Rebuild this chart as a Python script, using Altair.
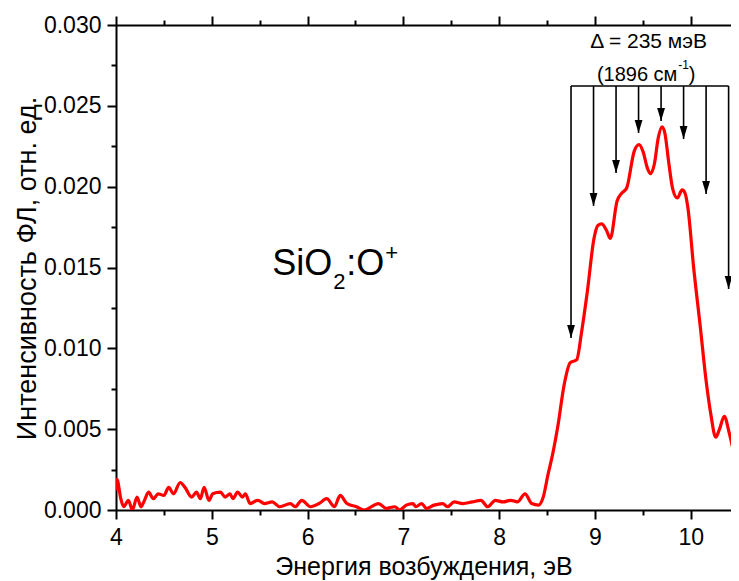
import altair as alt
import pandas as pd

FONT = "Liberation Sans"

# ---- spectrum ----
energy = [
    4.00, 4.01, 4.05, 4.08, 4.13, 4.17, 4.22, 4.26, 4.29, 4.34,
    4.39, 4.44, 4.50, 4.55, 4.60, 4.67, 4.72, 4.79, 4.84, 4.88,
    4.92, 4.97, 5.01, 5.09, 5.14, 5.19, 5.22, 5.27, 5.32, 5.35,
    5.40, 5.48, 5.55, 5.63, 5.71, 5.82, 5.87, 5.94, 6.03, 6.12,
    6.20, 6.28, 6.34, 6.41, 6.51, 6.59, 6.74, 6.82, 6.91, 6.96,
    7.03, 7.10, 7.13, 7.19, 7.24, 7.32, 7.41, 7.46, 7.53, 7.62,
    7.72, 7.81, 7.88, 7.96, 8.04, 8.12, 8.19, 8.27, 8.34, 8.41,
    8.46, 8.51, 8.56, 8.61, 8.68, 8.74, 8.81, 8.86, 8.92, 8.99,
    9.03, 9.07, 9.12, 9.16, 9.23, 9.28, 9.33, 9.41, 9.46, 9.50,
    9.55, 9.58, 9.62, 9.66, 9.70, 9.73, 9.77, 9.81, 9.86, 9.91,
    9.94, 9.97, 10.03, 10.10, 10.16, 10.21, 10.26, 10.30, 10.35, 10.40,
    10.45,
]
intensity = [
    0.0012, 0.0019, 0.0007, 0.0002, 0.0006, 0.0000, 0.0008, 0.0002, 0.0005, 0.0011,
    0.0007, 0.0010, 0.0009, 0.0014, 0.0010, 0.0017, 0.0014, 0.0008, 0.0011, 0.0007,
    0.0014, 0.0006, 0.0010, 0.0011, 0.0008, 0.0010, 0.0007, 0.0011, 0.0008, 0.0010,
    0.0004, 0.0006, 0.0004, 0.0005, 0.0002, 0.0004, 0.0002, 0.0006, 0.0002, 0.0004,
    0.0007, 0.0002, 0.0009, 0.0004, 0.0002, 0.0000, 0.0004, 0.0001, 0.0002, 0.0000,
    0.0003, 0.0004, 0.0002, 0.0004, 0.0001, 0.0003, 0.0004, 0.0002, 0.0005, 0.0004,
    0.0005, 0.0006, 0.0002, 0.0006, 0.0005, 0.0006, 0.0005, 0.0010, 0.0004, 0.0003,
    0.0008, 0.0022, 0.0035, 0.0051, 0.0078, 0.0091, 0.0093, 0.0110, 0.0135, 0.0168,
    0.0176, 0.0177, 0.0173, 0.0168, 0.0191, 0.0196, 0.0199, 0.0222, 0.0226, 0.0222,
    0.0211, 0.0208, 0.0214, 0.0230, 0.0237, 0.0233, 0.0215, 0.0199, 0.0193, 0.0198,
    0.0196, 0.0187, 0.0150, 0.0113, 0.0080, 0.0059, 0.0045, 0.0050, 0.0058, 0.0048,
    0.0035,
]

# ---- vibronic progression arrows (Δ = 235 meV) ----
arrow_energy = [8.75, 8.985, 9.22, 9.455, 9.69, 9.925, 10.16, 10.395]
arrow_tip = [0.01064, 0.01881, 0.02085, 0.02332, 0.02406, 0.02295, 0.01955, 0.01367]
arrow_top = 0.02623

# ---- axis ticks ----
x_ticks = [4.0, 4.5, 5.0, 5.5, 6.0, 6.5, 7.0, 7.5, 8.0, 8.5, 9.0, 9.5, 10.0]
y_ticks = [0.0, 0.0025, 0.005, 0.0075, 0.01, 0.0125, 0.015, 0.0175,
           0.02, 0.0225, 0.025, 0.0275, 0.03]

# ---- annotations ----
delta_text = ["Δ = 235 мэВ"]
delta_pos = [9.56, 0.02858]
wn_text = ["(1896 см", "-1", ")"]
wn_pos = [[9.86, 0.02654], [9.86, 0.02728], [9.98, 0.02654]]
sample_text = ["SiO", "2", ":O", "+"]
sample_pos = [5.63, 0.01454]

spec = pd.DataFrame({"E": energy, "I": intensity})
arr = pd.DataFrame({"E": arrow_energy, "tip": arrow_tip, "top": [arrow_top] * len(arrow_energy)})
bar = pd.DataFrame({"E": [arrow_energy[0]], "E2": [arrow_energy[-1]], "top": [arrow_top]})

xscale = alt.Scale(domain=[4.0, 10.42], nice=False, zero=False)
yscale = alt.Scale(domain=[0.0, 0.030], nice=False, zero=False)

x_tick_size = {"condition": {"test": "datum.value % 1 !== 0", "value": 5}, "value": 9}
y_tick_size = {"condition": {"test": "round(datum.value * 10000) % 50 !== 0", "value": 5}, "value": 9}

common_axis = dict(
    grid=False, domainColor="black", tickColor="black", domainWidth=2, tickWidth=2,
    labelFont=FONT, titleFont=FONT, labelColor="black", titleColor="black",
    labelFontSize=23, titleFontWeight="normal",
    labelOverlap=False, labelFlush=False, labelBound=False,
)

x_bottom = alt.Axis(
    values=x_ticks, title="Энергия возбуждения, эВ",
    labelExpr="datum.value % 1 === 0 ? format(datum.value, 'd') : ''",
    tickSize=x_tick_size, labelPadding=7, titleFontSize=25,
    titleBaseline="alphabetic", titleY=64, **common_axis,
)
x_top = alt.Axis(
    orient="top", values=x_ticks, labels=False, title=None,
    tickSize=x_tick_size, **{k: v for k, v in common_axis.items() if not k.startswith("title")},
)
y_left = alt.Axis(
    values=y_ticks, title="Интенсивность ФЛ, отн. ед.",
    labelExpr="round(datum.value * 10000) % 50 === 0 ? format(datum.value, '.3f') : ''",
    tickSize=y_tick_size, labelPadding=6, titleFontSize=27,
    titleBaseline="alphabetic", titleX=-81, titleY=243, **common_axis,
)

line = alt.Chart(spec).mark_line(color="#ff0000", strokeWidth=3.2, interpolate="monotone", clip=True).encode(
    x=alt.X("E:Q", scale=xscale, axis=x_bottom),
    y=alt.Y("I:Q", scale=yscale, axis=y_left),
)

top_axis = alt.Chart(spec).mark_line(opacity=0).encode(
    x=alt.X("E:Q", scale=xscale, axis=x_top),
    y=alt.Y("I:Q", scale=yscale, axis=None),
)

hbar = alt.Chart(bar).mark_rule(color="black", strokeWidth=1.6).encode(
    x=alt.X("E:Q", scale=xscale, axis=None), x2="E2:Q",
    y=alt.Y("top:Q", scale=yscale, axis=None),
)

vlines = alt.Chart(arr).mark_rule(color="black", strokeWidth=1.6).encode(
    x=alt.X("E:Q", scale=xscale, axis=None),
    y=alt.Y("top:Q", scale=yscale, axis=None), y2="tip:Q",
)

heads = alt.Chart(arr).mark_point(
    shape="M-0.3,-1L0.3,-1L0,0Z", size=676, filled=True, color="black", opacity=1, strokeWidth=0
).encode(
    x=alt.X("E:Q", scale=xscale, axis=None),
    y=alt.Y("tip:Q", scale=yscale, axis=None),
)

def text_layer(txt, pos, size, align="left", dx=0, dy=0):
    d = pd.DataFrame({"E": [pos[0]], "I": [pos[1]], "t": [txt]})
    return alt.Chart(d).mark_text(
        font=FONT, fontSize=size, align=align, baseline="alphabetic", color="black", dx=dx, dy=dy
    ).encode(
        x=alt.X("E:Q", scale=xscale, axis=None),
        y=alt.Y("I:Q", scale=yscale, axis=None),
        text="t:N",
    )

texts = [
    text_layer(delta_text[0], delta_pos, 21, align="center"),
    text_layer(wn_text[0], wn_pos[0], 20, align="right"),
    text_layer(wn_text[1], wn_pos[1], 12, align="left", dx=1),
    text_layer(wn_text[2], wn_pos[2], 20, align="left"),
    text_layer(sample_text[0], sample_pos, 36),
    text_layer(sample_text[1], sample_pos, 22, dx=61, dy=14),
    text_layer(sample_text[2], sample_pos, 36, dx=74),
    text_layer(sample_text[3], sample_pos, 22, dx=113, dy=-15),
]

chart = alt.layer(line, top_axis, hbar, vlines, heads, *texts).resolve_axis(
    x="independent", y="independent"
).properties(
    width=615, height=485,
    autosize=alt.AutoSizeParams(type="none"),
    padding={"left": 108, "top": 17, "right": 0, "bottom": 71},
).configure_view(strokeWidth=0).configure(background="white")

chart.save("out.html", embed_options={"renderer": "svg", "actions": False})
